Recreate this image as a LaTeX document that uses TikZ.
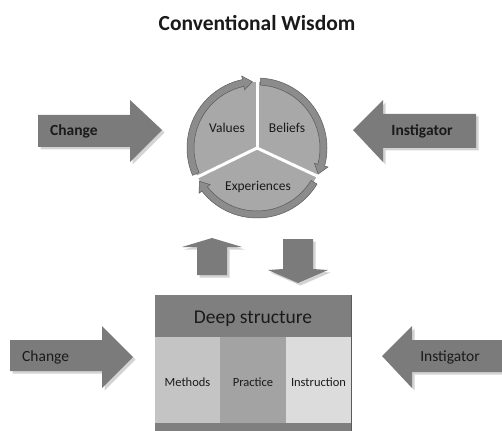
\documentclass[tikz,border=0pt]{standalone}
\usepackage{fontspec}
\setmainfont{Carlito}
\usetikzlibrary{shadows}
\definecolor{arrowgray}{HTML}{7B7B7B}
\definecolor{headgray}{HTML}{7F7F7F}
\definecolor{piefill}{HTML}{A8A8A8}
\definecolor{bandgray}{HTML}{8C8C8C}
\definecolor{bandline}{HTML}{5A5A5A}
\definecolor{methodsc}{HTML}{C4C4C4}
\definecolor{practicec}{HTML}{A3A3A3}
\definecolor{instrc}{HTML}{DCDCDC}
\definecolor{txt}{HTML}{1A1A1A}
\tikzset{
  bigarrow/.style={fill=arrowgray, drop shadow={shadow xshift=2.5pt, shadow yshift=-2.5pt, opacity=0.35}},
  sector/.style={fill=piefill},
  band/.style={fill=bandgray, draw=bandline, line width=0.5pt},
  sep/.style={draw=white, line width=3pt},
  lbl/.style={text=txt, inner sep=0pt},
  arrowlbl/.style={lbl, font=\fontsize{15.5}{18}\selectfont\bfseries},
  arrowlbltwo/.style={lbl, font=\fontsize{15.5}{18}\selectfont},
  pielbl/.style={lbl, font=\fontsize{13.5}{16}\selectfont},
  celllbl/.style={lbl, font=\fontsize{12.5}{15}\selectfont},
}
\begin{document}
\begin{tikzpicture}[x=1pt,y=-1pt]
\useasboundingbox (0,0) rectangle (502,430);
% title
\node[lbl, font=\fontsize{21.5}{25}\selectfont\bfseries] (title) at (257,23) {Conventional Wisdom};
% big arrows
\fill[bigarrow] (38,115) -- (130,115) -- (130,100) -- (162,130) -- (130,162) -- (130,147) -- (38,147) -- cycle;
\fill[bigarrow] (476,114) -- (383,114) -- (383,100) -- (353,130) -- (383,162) -- (383,148) -- (476,148) -- cycle;
\fill[bigarrow] (10,340) -- (102,340) -- (102,326) -- (133,357) -- (102,388) -- (102,371) -- (10,371) -- cycle;
\fill[bigarrow] (503,340) -- (412,340) -- (412,326) -- (382,356) -- (412,388) -- (412,372) -- (503,372) -- cycle;
\node[arrowlbl, anchor=west] (chg1) at (50,131) {Change};
\node[arrowlbl] (ins1) at (422,131) {Instigator};
\node[arrowlbltwo, anchor=west] (chg2) at (22,357) {Change};
\node[arrowlbltwo] (ins2) at (450,357) {Instigator};
% up / down arrows
\fill[bigarrow] (212,238) -- (242,247) -- (227,247) -- (227,275) -- (197,275) -- (197,247) -- (182,247) -- cycle;
\fill[bigarrow] (283,239) -- (313,239) -- (313,269) -- (328,270) -- (298,283) -- (268,270) -- (283,269) -- cycle;
% pie
\begin{scope}[shift={(257,148)}, yscale=-1]
  \fill[sector] (0,0) -- (90:66) arc[start angle=90, end angle=206, radius=66] -- cycle;
  \fill[sector] (0,0) -- (206:66) arc[start angle=206, end angle=335, radius=66] -- cycle;
  \fill[sector] (0,0) -- (-25:66) arc[start angle=-25, end angle=90, radius=66] -- cycle;
  \draw[sep] (0,0) -- (90:72);
  \draw[sep] (0,0) -- (206:72);
  \draw[sep] (0,0) -- (335:72);
  % bands (clockwise arrows)
  \draw[band] (203:63) arc[start angle=203, end angle=102, radius=63] -- (102:59.5) -- (94:66.5) -- (102:73.5) -- (102:70) arc[start angle=102, end angle=203, radius=70] -- cycle;
  \draw[band] (87:63) arc[start angle=87, end angle=-15, radius=63] -- (-15:59.5) -- (-23:66.5) -- (-15:73.5) -- (-15:70) arc[start angle=-15, end angle=87, radius=70] -- cycle;
  \draw[band] (-31:63) arc[start angle=-31, end angle=-142, radius=63] -- (-142:59.5) -- (-150:66.5) -- (-142:73.5) -- (-142:70) arc[start angle=-142, end angle=-31, radius=70] -- cycle;
\end{scope}
\node[pielbl] (values) at (227,128) {Values};
\node[pielbl] (beliefs) at (287,128) {Beliefs};
\node[pielbl] (exper) at (258,187) {Experiences};
% deep structure box
\fill[headgray] (155,295) rectangle (351,337);
\fill[methodsc] (155,337) rectangle (220,423);
\fill[practicec] (220,337) rectangle (286,423);
\fill[instrc] (286,337) rectangle (351,423);
\fill[headgray] (155,423) rectangle (351,431);
\draw[bandline, line width=1pt] (351,295) -- (351,431);
\node[lbl, font=\fontsize{19.5}{23}\selectfont] (deep) at (253,319) {Deep structure};
\node[celllbl] (methods) at (187.5,382) {Methods};
\node[celllbl] (practice) at (253,382) {Practice};
\node[celllbl] (instr) at (318.5,382) {Instruction};
\end{tikzpicture}
\end{document}
